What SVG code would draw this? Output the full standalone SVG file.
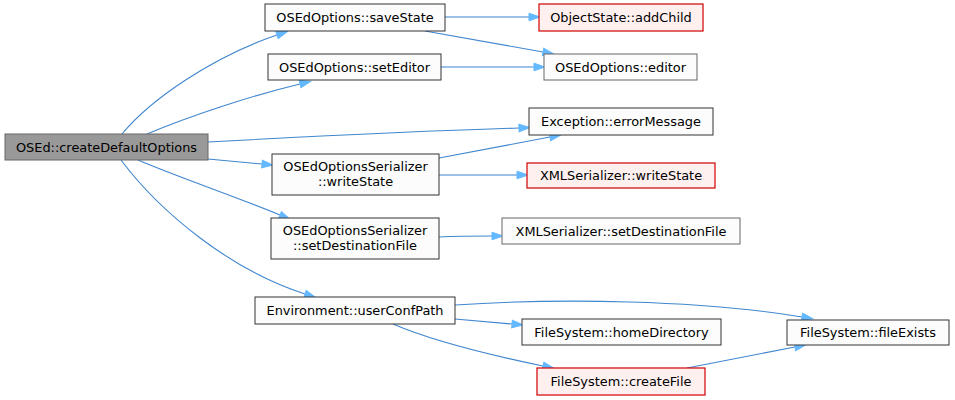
<svg xmlns="http://www.w3.org/2000/svg" width="955" height="400" viewBox="0 0 955 400">
  <style>
    text { font-family: "DejaVu Sans", "Liberation Sans", sans-serif; font-size: 12.9px; fill: #000; text-anchor: middle; }
    .node rect { fill: #fbfcfb; stroke: #333; stroke-width: 1; }
    .leaf rect { stroke: #666; }
    .root rect { fill: #999999; stroke: #666; }
    .trunc rect { fill: #fff0f0; stroke: #d00000; stroke-width: 1.2; }
    #edges path { fill: none; stroke: #3f86cf; stroke-width: 1.1; }
  </style>
  <defs>
    <marker id="arr" markerUnits="userSpaceOnUse" markerWidth="12" markerHeight="10" refX="0" refY="4" orient="auto" overflow="visible">
      <path d="M0,0.2 L11,4 L0,7.8 z" fill="#63b8ff" stroke="#63b8ff" stroke-width="1"/>
    </marker>
  </defs>
  <rect width="955" height="400" fill="#fff"/>

  <g id="edges">
    <path marker-end="url(#arr)" d="M122,134 C150,100 212,57 277,35"/>
    <path marker-end="url(#arr)" d="M147,134 C190,116 250,96 300,84"/>
    <path marker-end="url(#arr)" d="M208,142 C300,137 420,131 519,128"/>
    <path marker-end="url(#arr)" d="M208,159 L262,164"/>
    <path marker-end="url(#arr)" d="M138,160 C180,178 240,198 280,215"/>
    <path marker-end="url(#arr)" d="M121,160 C160,212 230,270 305,294"/>
    <path marker-end="url(#arr)" d="M445,17 L529,17"/>
    <path marker-end="url(#arr)" d="M425,31 L543,52"/>
    <path marker-end="url(#arr)" d="M441,67 L534,67"/>
    <path marker-end="url(#arr)" d="M439,158 L550,137"/>
    <path marker-end="url(#arr)" d="M439,175 L517,175"/>
    <path marker-end="url(#arr)" d="M439,237 C460,236 475,236 492,236"/>
    <path marker-end="url(#arr)" d="M455,305 C560,298 700,300 802,317"/>
    <path marker-end="url(#arr)" d="M455,319 L512,324"/>
    <path marker-end="url(#arr)" d="M393,324 C430,340 490,355 543,366"/>
    <path marker-end="url(#arr)" d="M687,368 L795,347"/>
  </g>

  <g id="createDefaultOptions" class="node root">
    <rect x="5" y="134" width="203" height="26"/>
    <text x="106.5" y="151.5">OSEd::createDefaultOptions</text>
  </g>
  <g id="saveState" class="node">
    <rect x="265" y="4" width="180" height="27"/>
    <text x="355" y="22">OSEdOptions::saveState</text>
  </g>
  <g id="addChild" class="node trunc">
    <rect x="539" y="4" width="164" height="27"/>
    <text x="621" y="22">ObjectState::addChild</text>
  </g>
  <g id="setEditor" class="node">
    <rect x="268" y="54" width="173" height="26"/>
    <text x="354.5" y="71.5">OSEdOptions::setEditor</text>
  </g>
  <g id="editor" class="node leaf">
    <rect x="544" y="54" width="153" height="26"/>
    <text x="620.5" y="71.5">OSEdOptions::editor</text>
  </g>
  <g id="errorMessage" class="node">
    <rect x="529" y="108" width="184" height="27"/>
    <text x="621" y="126">Exception::errorMessage</text>
  </g>
  <g id="serializerWriteState" class="node">
    <rect x="272" y="154" width="167" height="41"/>
    <text x="355.5" y="171">OSEdOptionsSerializer</text>
    <text x="355.5" y="186">::writeState</text>
  </g>
  <g id="xmlWriteState" class="node trunc">
    <rect x="527" y="163" width="188" height="25"/>
    <text x="621" y="180">XMLSerializer::writeState</text>
  </g>
  <g id="serializerSetDestinationFile" class="node">
    <rect x="271" y="218" width="168" height="41"/>
    <text x="355" y="235">OSEdOptionsSerializer</text>
    <text x="355" y="250">::setDestinationFile</text>
  </g>
  <g id="xmlSetDestinationFile" class="node leaf">
    <rect x="502" y="218" width="238" height="26"/>
    <text x="621" y="235.5">XMLSerializer::setDestinationFile</text>
  </g>
  <g id="userConfPath" class="node">
    <rect x="255" y="297" width="200" height="27"/>
    <text x="355" y="315">Environment::userConfPath</text>
  </g>
  <g id="homeDirectory" class="node">
    <rect x="522" y="319" width="199" height="26"/>
    <text x="621.5" y="336.5">FileSystem::homeDirectory</text>
  </g>
  <g id="createFile" class="node trunc">
    <rect x="537" y="368" width="168" height="27"/>
    <text x="621" y="386">FileSystem::createFile</text>
  </g>
  <g id="fileExists" class="node">
    <rect x="787" y="320" width="162" height="25"/>
    <text x="868" y="337">FileSystem::fileExists</text>
  </g>
</svg>
